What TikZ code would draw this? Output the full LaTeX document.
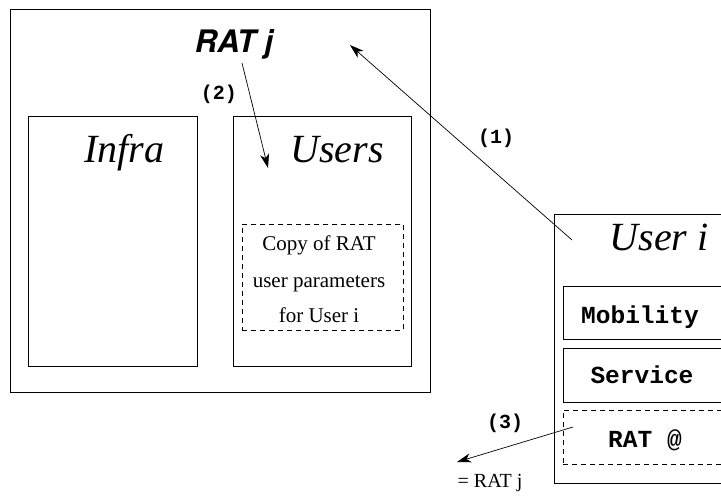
\documentclass[tikz,border=0pt]{standalone}
\usepackage{fontspec}
\setmainfont{Liberation Serif}
\newfontfamily\monofnt{Liberation Mono}
\newfontfamily\heros{TeX Gyre Heros}
\usetikzlibrary{arrows.meta}
\tikzset{
  box/.style={draw, line width=0.8pt, rectangle, anchor=north west, inner sep=0pt},
  dbox/.style={box, dashed, dash pattern=on 5pt off 4pt},
  title/.style={anchor=base, inner sep=0pt, font=\fontsize{40}{40}\selectfont\itshape},
  copytxt/.style={anchor=base, inner sep=0pt, font=\fontsize{21}{21}\selectfont},
  monotxt/.style={anchor=base, inner sep=0pt, font=\fontsize{24.5}{24.5}\selectfont\monofnt\bfseries},
  steplbl/.style={anchor=base, inner sep=0pt, font=\fontsize{20}{20}\selectfont\monofnt\bfseries},
  arr/.style={line width=0.7pt, -{Stealth[length=14pt,width=9pt,inset=4pt]}},
}
\begin{document}
\begin{tikzpicture}[x=1pt,y=-1pt]
\useasboundingbox (0,0) rectangle (721,498);
\begin{scope}
\clip (0,0) rectangle (721,498);
% RAT j system
\node[box, minimum width=420pt, minimum height=383pt] (rat) at (10,9) {};
\node[box, minimum width=169pt, minimum height=250pt] (infra) at (28,116) {};
\node[box, minimum width=178pt, minimum height=250pt] (users) at (233,116) {};
\node[dbox, minimum width=161pt, minimum height=106pt] (copy) at (242,224) {};
\node[anchor=base, inner sep=0pt, font=\fontsize{31}{31}\selectfont\heros\bfseries\itshape] (ratj) at (234,52) {RAT j};
\node[title] (infratxt) at (124,162) {Infra};
\node[title] (userstxt) at (337,162) {Users};
\node[copytxt] (c1) at (319,250) {Copy of RAT};
\node[copytxt] (c2) at (319,287) {user parameters};
\node[copytxt] (c3) at (319,322) {for User i};
% User i
\node[box, minimum width=181pt, minimum height=269pt] (useri) at (554,214) {};
\node[box, minimum width=165pt, minimum height=53pt] (mob) at (563,286) {};
\node[box, minimum width=165pt, minimum height=54pt] (serv) at (563,348) {};
\node[dbox, minimum width=165pt, minimum height=54pt] (ratat) at (563,410) {};
\node[title] (useritxt) at (659,250) {User i};
\node[monotxt] (mobtxt) at (640,323) {Mobility};
\node[monotxt] (servtxt) at (642,383) {Service};
\node[monotxt] (rattxt) at (645,447) {RAT @};
% arrows
\coordinate (a1s) at (572,240);
\coordinate (a1e) at (350,45);
\coordinate (a2s) at (242,63);
\coordinate (a2e) at (268,168);
\coordinate (a3s) at (573,427);
\coordinate (a3e) at (457,462);
\draw[arr] (a1s) -- (a1e);
\draw[arr] (a2s) -- (a2e);
\draw[arr] (a3s) -- (a3e);
\node[steplbl] (l1) at (496,143) {(1)};
\node[steplbl] (l2) at (219,99) {(2)};
\node[steplbl] (l3) at (505,428) {(3)};
\node[anchor=base, inner sep=0pt, font=\fontsize{20}{20}\selectfont] (eq) at (490,487) {= RAT j};
\end{scope}
\end{tikzpicture}
\end{document}
